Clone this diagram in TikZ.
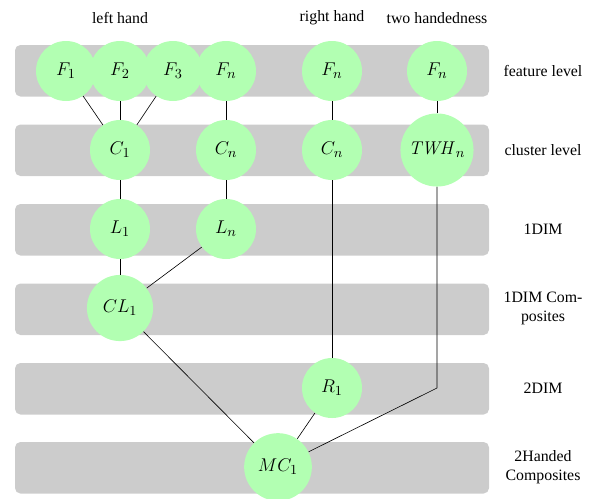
\documentclass[tikz,border=0pt]{standalone}
\usepackage[no-math]{fontspec}
\setmainfont{Liberation Serif}
\newcommand\labelsize{\fontsize{10.3}{12.4}\selectfont}
\newcommand\blobsize{\fontsize{12.4}{15}\selectfont}
\begin{document}
\begin{tikzpicture}[x=0.65pt,y=-0.65pt,
  band/.style={fill=black!20, draw=none, rounded corners=3.5pt},
  blob/.style={circle, fill=green!30, draw=none, inner sep=0pt, minimum size=39pt, font=\blobsize},
  side/.style={align=center, font=\labelsize},
  head/.style={font=\labelsize},
  link/.style={draw=black, line width=0.4pt}]
\useasboundingbox (0,0) rectangle (594,498);

% level bands
\foreach \y in {45,124.5,204,283.5,363,442}
  \fill[band] (15,\y) rectangle (489,\y+51.5);

% column headings
\node[head] (hl) at (120,18) {left hand};
\node[head] (hr) at (332,18) {right hand};
\node[head] (ht) at (437,18) {two handedness};

% level names
\node[side] (s1) at (543,71) {feature level};
\node[side] (s2) at (543,150) {cluster level};
\node[side] (s3) at (543,229) {1DIM};
\node[side] (s4) at (543,308) {1DIM Com-\\posites};
\node[side] (s5) at (543,388) {2DIM};
\node[side] (s6) at (543,467) {2Handed\\Composites};

% feature level
\node[blob] (f1) at (66,71) {$F_1$};
\node[blob] (f2) at (120,71) {$F_2$};
\node[blob] (f3) at (173,71) {$F_3$};
\node[blob] (fn) at (226,71) {$F_n$};
\node[blob] (rf) at (332,71) {$F_n$};
\node[blob] (tf) at (437,71) {$F_n$};

% cluster level
\node[blob] (c1) at (120,150) {$C_1$};
\node[blob] (cn) at (226,150) {$C_n$};
\node[blob] (rc) at (332,150) {$C_n$};
\node[blob, minimum size=47.5pt] (tw) at (437,150) {$\mathit{TWH}_n$};

% 1DIM
\node[blob] (l1) at (120,229) {$L_1$};
\node[blob] (ln) at (226,229) {$L_n$};

% 1DIM composites
\node[blob, minimum size=43pt] (cl) at (120,308) {$CL_1$};

% 2DIM
\node[blob] (r1) at (332,388) {$R_1$};
\coordinate (tb) at (437,388);

% 2 handed composites
\node[blob, minimum size=44pt] (mc) at (278,467) {$MC_1$};

% connections
\draw[link] (f1) -- (c1);
\draw[link] (f2) -- (c1);
\draw[link] (f3) -- (c1);
\draw[link] (fn) -- (cn);
\draw[link] (c1) -- (l1);
\draw[link] (cn) -- (ln);
\draw[link] (l1) -- (cl);
\draw[link] (ln) -- (cl);
\draw[link] (cl) -- (mc);
\draw[link] (rf) -- (rc);
\draw[link] (rc) -- (r1);
\draw[link] (r1) -- (mc);
\draw[link] (tf) -- (tw);
\draw[link] (tw) -- (tb) -- (mc);
\end{tikzpicture}
\end{document}
